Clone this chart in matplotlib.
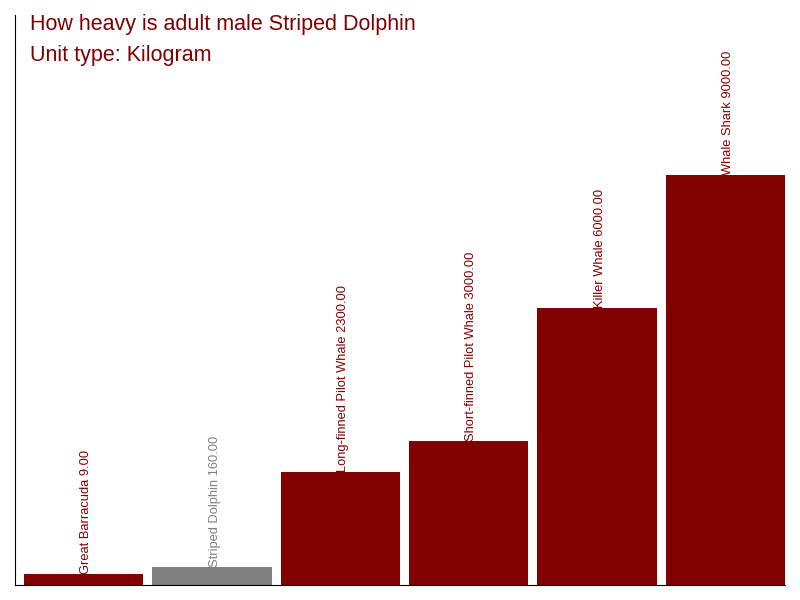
import matplotlib
matplotlib.use("Agg")
import matplotlib.pyplot as plt

categories = ["Great Barracuda", "Striped Dolphin", "Long-finned Pilot Whale",
              "Short-finned Pilot Whale", "Killer Whale", "Whale Shark"]
values = [9.0, 160.0, 2300.0, 3000.0, 6000.0, 9000.0]
colors = ["#800000", "#808080", "#800000", "#800000", "#800000", "#800000"]
title_lines = ["How heavy is adult male Striped Dolphin", "Unit type: Kilogram"]

plt.rcParams['font.family'] = ['Liberation Sans', 'DejaVu Sans']

fig = plt.figure(figsize=(8, 6), dpi=100)
ax = fig.add_axes([15/800, 15/600, 770/800, 570/600])

ymin, ymax = -250, 12600
gap = 0.07
xs = [i + gap for i in range(len(values))]
ax.bar(xs, [v - ymin for v in values], bottom=ymin, width=1 - gap,
       align='edge', color=colors)
for x, v, c, col in zip(xs, values, categories, colors):
    ax.text(x + (1 - gap) / 2 + 0.02, v, f"{c} {v:.2f}", rotation=90,
            ha='center', va='bottom', fontsize=9.3, color=col)

ax.set_xlim(0, len(values))
ax.set_ylim(ymin, ymax)
ax.spines['top'].set_visible(False)
ax.spines['right'].set_visible(False)
ax.set_xticks([])
ax.set_yticks([])

fig.text(30/800, 1 - 30/600, title_lines[0], fontsize=15.5, color="#800000",
         ha='left', va='baseline')
fig.text(30/800, 1 - 61/600, title_lines[1], fontsize=15.5, color="#800000",
         ha='left', va='baseline')

fig.savefig("out.png", dpi=100)
